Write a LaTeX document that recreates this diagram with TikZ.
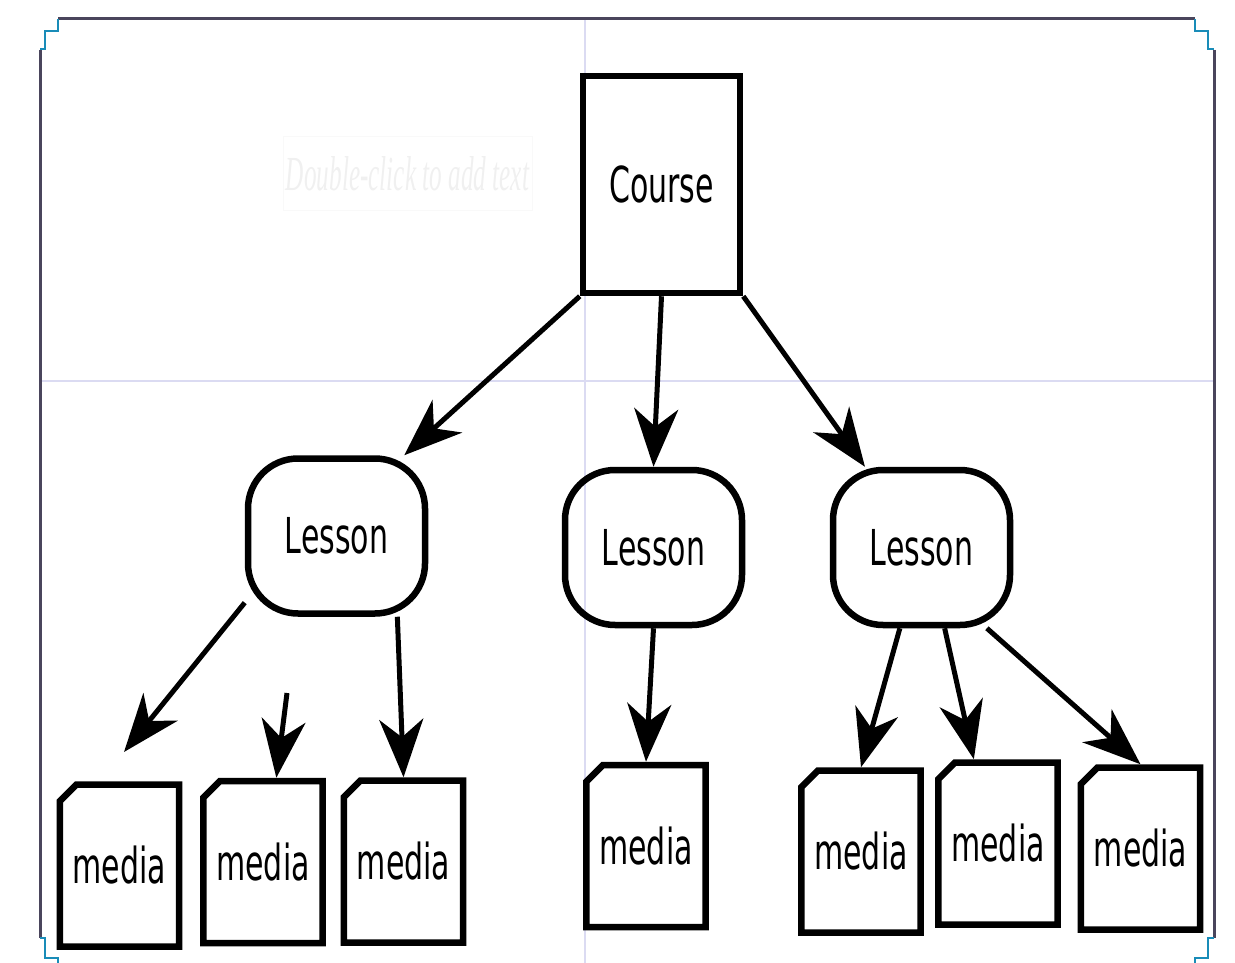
\documentclass[tikz,border=0pt]{standalone}
\usepackage{fontspec}
\setmainfont{DejaVu Sans}
\newfontfamily\hintfont{Liberation Serif}
\usetikzlibrary{arrows.meta,shapes.misc}
\definecolor{FrameClr}{rgb}{0.29,0.27,0.36}
\definecolor{CornerClr}{rgb}{0.1,0.55,0.72}
\definecolor{GridClr}{rgb}{0.86,0.86,0.95}
\definecolor{HintClr}{rgb}{0.94,0.94,0.94}
\definecolor{HintBoxClr}{rgb}{0.975,0.975,0.975}
\newcommand{\boxtext}[1]{\scalebox{1}[1.65]{#1}}

\begin{document}
\begin{tikzpicture}[x=1pt,y=-1pt,
  every node/.style={font=\fontsize{30}{32}\selectfont,inner sep=0pt},
  coursebox/.style={draw,line width=6.5pt,minimum width=157pt,minimum height=217pt},
  lessonbox/.style={draw,line width=6.5pt,rounded corners=50pt,minimum width=177pt,minimum height=155pt},
  mediabox/.style={draw,line width=6.5pt,chamfered rectangle,chamfered rectangle corners=north west,
    chamfered rectangle xsep=13pt,minimum width=115pt,minimum height=162pt},
  link/.style={line width=5pt,-{Stealth[length=58pt,width=44pt,inset=18pt]}}]
\useasboundingbox (0,0) rectangle (1235,963);

\draw[GridClr,line width=1.5pt] (585,19) -- (585,963);
\draw[GridClr,line width=1.5pt] (40,381) -- (1214,381);

\draw[FrameClr,line width=3pt] (40,50) -- (40,938);
\draw[FrameClr,line width=3pt] (58,19) -- (1195,19);
\draw[FrameClr,line width=3pt] (1214,50) -- (1214,938);
\draw[CornerClr,line width=2.5pt] (40,49) -- (45,49) -- (45,31) -- (58,31) -- (58,19);
\draw[CornerClr,line width=2.5pt] (1195,19) -- (1195,31) -- (1208,31) -- (1208,49) -- (1214,49);
\draw[CornerClr,line width=2.5pt] (40,938) -- (45,938) -- (45,958) -- (58,958) -- (58,963);
\draw[CornerClr,line width=2.5pt] (1214,938) -- (1208,938) -- (1208,958) -- (1195,958) -- (1195,963);

\node[draw=HintBoxClr,line width=1pt,text=HintClr,minimum width=249pt,minimum height=73pt] (hint) at (407.5,173.5)
  {\resizebox{243pt}{34pt}{\hintfont\itshape Double-click to add text}};

\node[coursebox] (course) at (661.5,184.5) {\boxtext{Course}};

\node[lessonbox] (lessonA) at (336.5,536) {\boxtext{Lesson}};
\node[lessonbox] (lessonB) at (653.5,547.5) {\boxtext{Lesson}};
\node[lessonbox] (lessonC) at (921.5,547.5) {\boxtext{Lesson}};

\node[mediabox] (mediaA) at (119.5,865.5) {\boxtext{media}};
\node[mediabox] (mediaB) at (263,862) {\boxtext{media}};
\node[mediabox] (mediaC) at (403.5,861.5) {\boxtext{media}};
\node[mediabox] (mediaD) at (646,846) {\boxtext{media}};
\node[mediabox] (mediaE) at (861,851.5) {\boxtext{media}};
\node[mediabox] (mediaF) at (998,843.5) {\boxtext{media}};
\node[mediabox] (mediaG) at (1140.5,848.5) {\boxtext{media}};

\coordinate (mediaAin) at (124,752);
\coordinate (mediaBout) at (287,693);

\draw[link] (course.south west) -- (lessonA.50);
\draw[link] (course.south) -- (lessonB.north);
\draw[link] (course.south east) -- (lessonC.125);
\draw[link] (lessonA.216) -- (mediaAin);
\draw[link] (mediaBout) -- (mediaB.81);
\draw[link] (lessonA.-53) -- (mediaC.north);
\draw[link] (lessonB.south) -- (mediaD.north);
\draw[link] (lessonC.-105) -- (mediaE.north);
\draw[link] (lessonC.-74) -- (mediaF.106);
\draw[link] (lessonC.-51) -- (mediaG.north);

\end{tikzpicture}
\end{document}
